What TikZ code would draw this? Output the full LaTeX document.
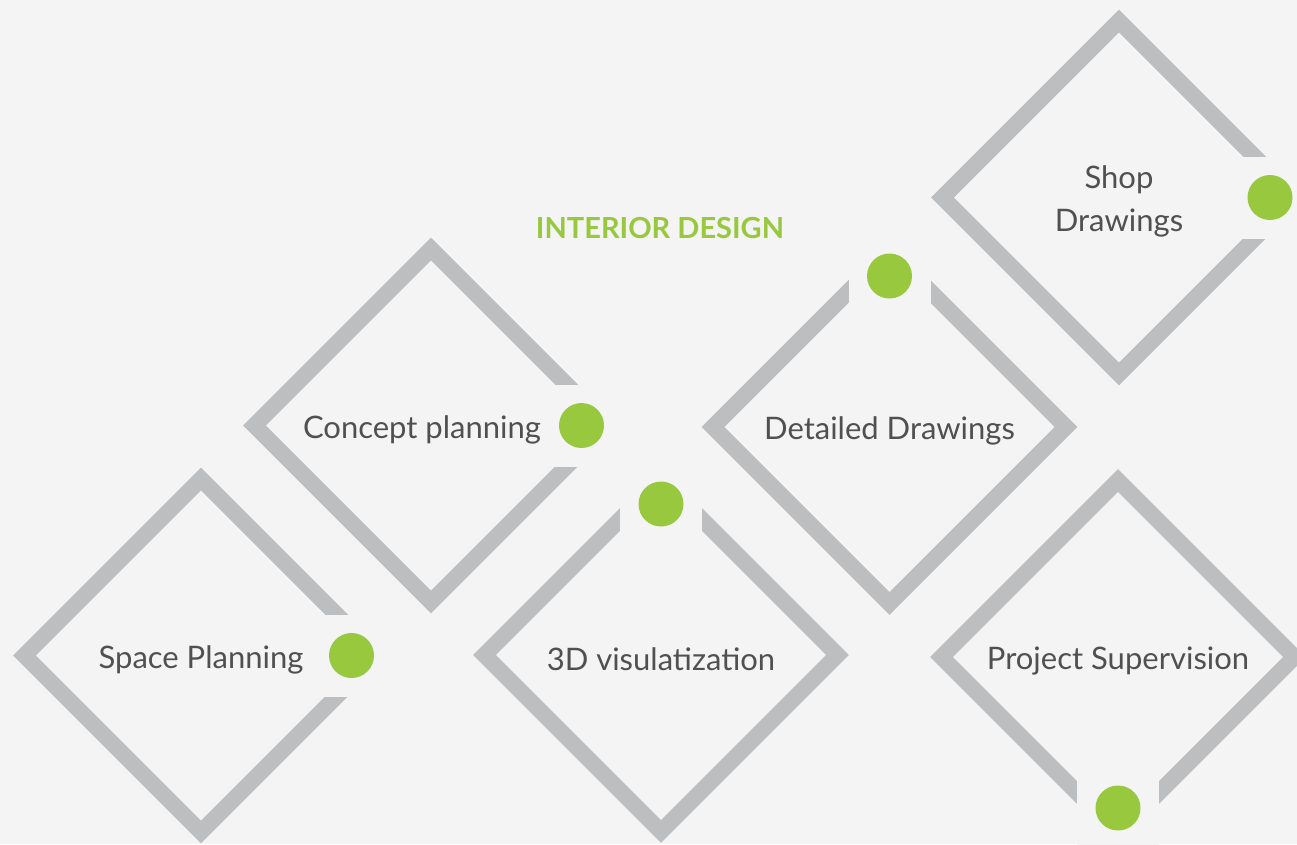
\documentclass[tikz,border=0pt]{standalone}
\usepackage{fontspec}
\setmainfont{Lato}
\usetikzlibrary{shapes.geometric,positioning}
\definecolor{paper}{HTML}{F4F4F4}
\definecolor{rim}{HTML}{BDBEC0}
\definecolor{leaf}{HTML}{97C83D}
\definecolor{ink}{HTML}{505052}

\begin{document}
\begin{tikzpicture}[x=1pt, y=-1pt,
   stage/.style={diamond, aspect=1, draw=rim, line width=16pt, minimum width=353pt,
      minimum height=353pt, inner sep=0pt, outer sep=0pt},
   stagetext/.style={text=ink, font=\fontsize{31}{43}\selectfont, align=center, yshift=-4pt},
   greendot/.style={circle, fill=leaf, minimum size=45pt, inner sep=0pt, outer sep=0pt},
   gapfill/.style={fill=paper}]
   \fill[paper] (0,0) rectangle (1297,844);
   \useasboundingbox (0,0) rectangle (1297,844);
   % the six frames
   \node[stage] (space) at (201,655.5) {};
   \node[stage] (concept) at (431,425.5) {};
   \node[stage] (visual) at (661,655) {};
   \node[stage] (detailed) at (889.5,427) {};
   \node[stage] (shop) at (1119,197.5) {};
   \node[stage] (super) at (1118,657) {};
   % openings in the frames
   \fill[gapfill] (319,614.5) rectangle (400,696.5);
   \fill[gapfill] (549,384.5) rectangle (630,466.5);
   \fill[gapfill] (620,455) rectangle (702,537);
   \fill[gapfill] (848.5,227) rectangle (930.5,309);
   \fill[gapfill] (1237,156.5) rectangle (1310,238.5);
   \fill[gapfill] (1077,775) rectangle (1159,860);
   % dots
   \node[greendot, left=3.5pt of space.east] (spacedot) {};
   \node[greendot, left=3.5pt of concept.east] (conceptdot) {};
   \node[greendot, below=3pt of visual.north] (visualdot) {};
   \node[greendot, below=3pt of detailed.north] (detaileddot) {};
   \node[greendot, left=3pt of shop.east] (shopdot) {};
   \node[greendot, above=3pt of super.south] (superdot) {};
   % texts
   \node[text=leaf, font=\bfseries\fontsize{29}{34}\selectfont] (title) at (660,228) {INTERIOR DESIGN};
   \node[stagetext] (spacetext) at (space) {Space Planning};
   \node[stagetext, xshift=-9pt] (concepttext) at (concept) {Concept planning};
   \node[stagetext] (visualtext) at (visual) {3D visulatization};
   \node[stagetext] (detailedtext) at (detailed) {Detailed Drawings};
   \node[stagetext] (shoptext) at (shop) {Shop\\Drawings};
   \node[stagetext] (supertext) at (super) {Project Supervision};
\end{tikzpicture}
\end{document}
